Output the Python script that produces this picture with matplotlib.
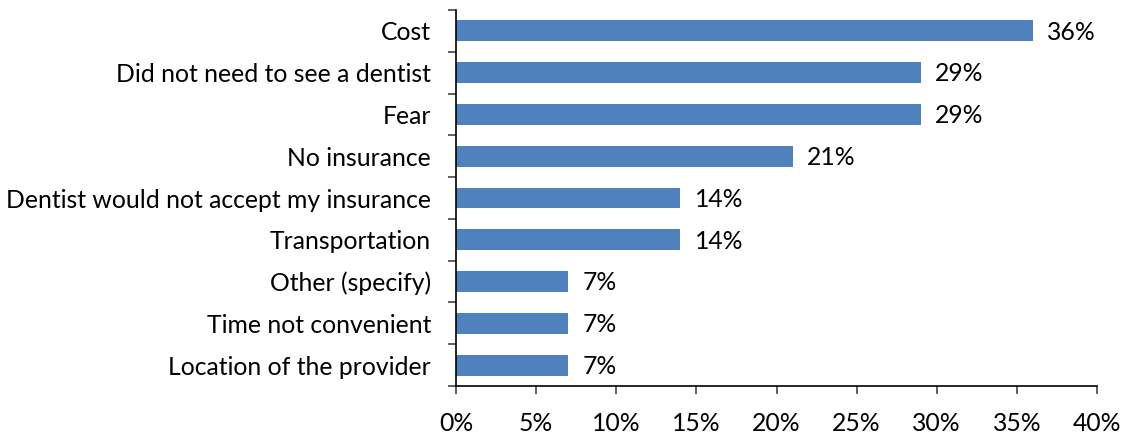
import matplotlib.pyplot as plt
from matplotlib.ticker import FixedLocator, PercentFormatter

plt.rcParams['font.family'] = ['Lato', 'DejaVu Sans']

reasons = ['Cost', 'Did not need to see a dentist', 'Fear', 'No insurance',
           'Dentist would not accept my insurance', 'Transportation',
           'Other (specify)', 'Time not convenient', 'Location of the provider']
percent = [36, 29, 29, 21, 14, 14, 7, 7, 7]

fig = plt.figure(figsize=(11.23, 4.36), dpi=100)
ax = fig.add_axes([456 / 1123, 50 / 436, 641 / 1123, 376 / 436])

pos = list(range(len(reasons)))[::-1]
ax.barh(pos, percent, height=0.5, color='#4F81BD')

for y, v in zip(pos, percent):
    ax.text(v + 0.9, y - 0.03, f'{v}%', va='center', ha='left', fontsize=17.8)

ax.set_xlim(0, 40)
ax.set_ylim(-0.5, len(reasons) - 0.5)
ax.set_xticks(range(0, 41, 5))
ax.xaxis.set_major_formatter(PercentFormatter(decimals=0))

# category labels sit between the boundary ticks
ax.set_yticks(pos)
ax.set_yticklabels(reasons)
ax.yaxis.set_minor_locator(FixedLocator([p - 0.5 for p in range(len(reasons) + 1)]))
ax.tick_params(axis='y', which='major', length=0, pad=18, labelsize=17.8)
ax.tick_params(axis='y', which='minor', length=6, width=1.2, color='#444444')
ax.tick_params(axis='x', length=6, width=1.2, color='#444444', pad=13, labelsize=17.8)

for side in ['top', 'right']:
    ax.spines[side].set_visible(False)
for side in ['left', 'bottom']:
    ax.spines[side].set_linewidth(1.2)

fig.savefig('out.png', dpi=100)
